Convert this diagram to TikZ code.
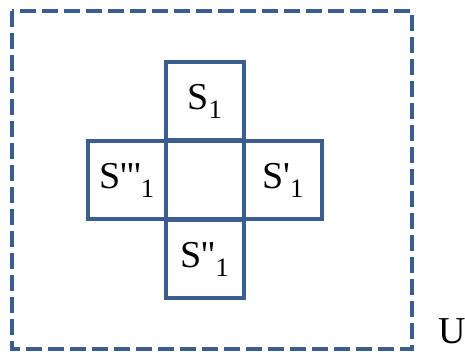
\documentclass[tikz,border=0pt]{standalone}
\usepackage{fontspec}
\setmainfont{Liberation Serif}
\definecolor{setblue}{HTML}{3A5F8F}
\newcommand{\pr}{\textquotesingle}
\begin{document}
\begin{tikzpicture}[
  x=1pt,y=-1pt,
  cell/.style={draw=setblue,line width=4.5pt,minimum width=78pt,
               minimum height=78pt,inner sep=0pt,
               font=\fontsize{38}{42}\selectfont},
  univ/.style={draw=setblue,line width=4.5pt,dash pattern=on 16pt off 6pt},
  lbl/.style={font=\fontsize{38}{42}\selectfont,inner sep=0pt}
]
\useasboundingbox (0,0) rectangle (465,351);
\draw[univ] (12,11) rectangle (412,349);
\node[cell] (mid) at (205,180) {};
\node[cell] (s1) at (205,101) {S\textsubscript{1}};
\node[cell] (s1p) at (283,180) {S\pr\textsubscript{1}};
\node[cell] (s1pp) at (205,259) {S\pr\pr\textsubscript{1}};
\node[cell] (s1ppp) at (127,180) {S\pr\pr\pr\textsubscript{1}};
\node[lbl] (U) at (452,331) {U};
\end{tikzpicture}
\end{document}
